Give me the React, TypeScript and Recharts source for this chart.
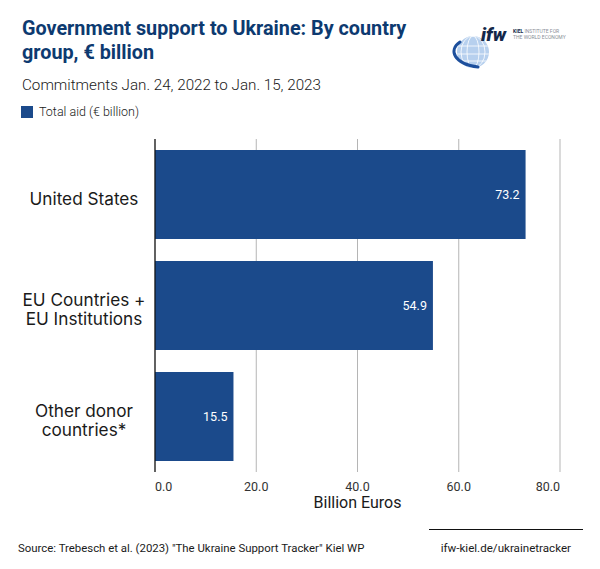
import React from "react";
import { BarChart, Bar, XAxis, YAxis, CartesianGrid, LabelList } from "recharts";

const categories = ["United States", "EU Countries +\nEU Institutions", "Other donor\ncountries*"];
const totalAid = [73.2, 54.9, 15.5];
const xTicks = [0, 20, 40, 60, 80];

const data = categories.map((name, i) => ({ name, value: totalAid[i] }));

const BAR = "#1b4a8b";
const TITLE = "#0d3a70";
const FONT = "Roboto, 'Noto Sans', sans-serif";
const CAT_FONT = "Inter, Roboto, sans-serif";

const YTick = (props: any) => {
  const { x, y, payload } = props;
  const lines = String(payload.value).split("\n");
  const lh = 19;
  const first = y + 10 - ((lines.length - 1) * lh) / 2;
  const cx = x - 63;
  return (
    <text x={cx} y={first} textAnchor="middle" fontFamily={CAT_FONT} fontSize={17.2} fill="#1a1a1a">
      {lines.map((l, i) => (
        <tspan key={i} x={cx} y={first + i * lh}>
          {l}
        </tspan>
      ))}
    </text>
  );
};

const XTick = (props: any) => {
  const { x, y, payload, index } = props;
  const anchor = index === 0 ? "start" : index === xTicks.length - 1 ? "end" : "middle";
  return (
    <text x={x} y={y + 11} textAnchor={anchor} fontFamily={FONT} fontSize={12.5} fill="#333">
      {Number(payload.value).toFixed(1)}
    </text>
  );
};

const AxisTitle = (props: any) => {
  const vb = props.viewBox || {};
  return (
    <text x={vb.x + vb.width / 2} y={vb.y + 36} textAnchor="middle" fontFamily={FONT} fontSize={16} fill="#1a1a1a">
      Billion Euros
    </text>
  );
};

const Logo = () => (
  <svg width={130} height={60} style={{ position: "absolute", left: 448, top: 20 }}>
    <defs>
      <clipPath id="g">
        <circle cx={25} cy={32} r={16} />
      </clipPath>
    </defs>
    <circle cx={25} cy={32} r={16} fill="#b7d0ee" />
    <g clipPath="url(#g)" stroke="#ffffff" strokeWidth={0.8} fill="none">
      <ellipse cx={25} cy={32} rx={6} ry={16} />
      <ellipse cx={25} cy={32} rx={12} ry={16} />
      <line x1={9} y1={26} x2={41} y2={26} />
      <line x1={9} y1={34} x2={41} y2={34} />
      <line x1={9} y1={41} x2={41} y2={41} />
    </g>
    <path d="M12 22 C 0 30, 6 44, 30 47" stroke="#1d4f9c" strokeWidth={3} fill="none" strokeLinecap="round" />
    <text x={33} y={21} fontFamily={FONT} fontStyle="italic" fontWeight={900} fontSize={19} fill="#14284a">
      ifw
    </text>
    <text x={65} y={13} fontFamily={FONT} fontSize={5} fill="#8a8f99">
      <tspan fontWeight={700} fill="#14284a">KIEL</tspan> INSTITUTE FOR
    </text>
    <text x={65} y={19} fontFamily={FONT} fontSize={5} fill="#8a8f99">
      THE WORLD ECONOMY
    </text>
  </svg>
);

export default function App() {
  return (
    <div style={{ position: "absolute", left: 0, top: 0, width: 600, height: 569, background: "#fff", fontFamily: FONT }}>
      <div style={{ position: "absolute", left: 22, top: 17, width: 430, fontSize: 19.8, fontWeight: 700, lineHeight: "24px", color: TITLE }}>
        Government support to Ukraine: By country group, € billion
      </div>
      <Logo />
      <div style={{ position: "absolute", left: 22, top: 76, fontSize: 15.2, fontWeight: 300, color: "#1a1a1a", whiteSpace: "nowrap" }}>
        Commitments Jan. 24, 2022 to Jan. 15, 2023
      </div>
      <div style={{ position: "absolute", left: 21, top: 104, display: "flex", alignItems: "center", fontSize: 12.5, fontWeight: 300, color: "#1a1a1a" }}>
        <span style={{ display: "inline-block", width: 12, height: 12, background: BAR, marginRight: 6 }} />
        Total aid (€ billion)
      </div>
      <div style={{ position: "absolute", left: 0, top: 0 }}>
        <BarChart
          width={600}
          height={569}
          data={data}
          layout="vertical"
          margin={{ top: 139, right: 40, bottom: 67, left: 0 }}
          barCategoryGap="10%"
        >
          <CartesianGrid horizontal={false} stroke="#b5b5b5" strokeWidth={1} />
          <XAxis
            type="number"
            domain={[0, 80]}
            ticks={xTicks}
            axisLine={false}
            tickLine={false}
            tick={<XTick />}
            height={30}
            label={<AxisTitle />}
          />
          <YAxis
            type="category"
            dataKey="name"
            width={155}
            axisLine={{ stroke: "#111", strokeWidth: 1.2 }}
            tickLine={false}
            tick={<YTick />}
            interval={0}
          />
          <Bar dataKey="value" fill={BAR} isAnimationActive={false}>
            <LabelList dataKey="value" position="insideRight" offset={6} fill="#fff" fontSize={12.5} fontFamily={FONT} formatter={(v: any) => Number(v).toFixed(1)} />
          </Bar>
        </BarChart>
      </div>
      <div style={{ position: "absolute", left: 429, top: 529, width: 154, height: 1, background: "#111" }} />
      <div style={{ position: "absolute", left: 18, top: 541, fontSize: 11.4, color: "#1a1a1a", whiteSpace: "nowrap" }}>
        Source: Trebesch et al. (2023) "The Ukraine Support Tracker" Kiel WP
      </div>
      <div style={{ position: "absolute", right: 29, top: 541, fontSize: 11.6, color: "#1a1a1a", whiteSpace: "nowrap" }}>
        ifw-kiel.de/ukrainetracker
      </div>
    </div>
  );
}
